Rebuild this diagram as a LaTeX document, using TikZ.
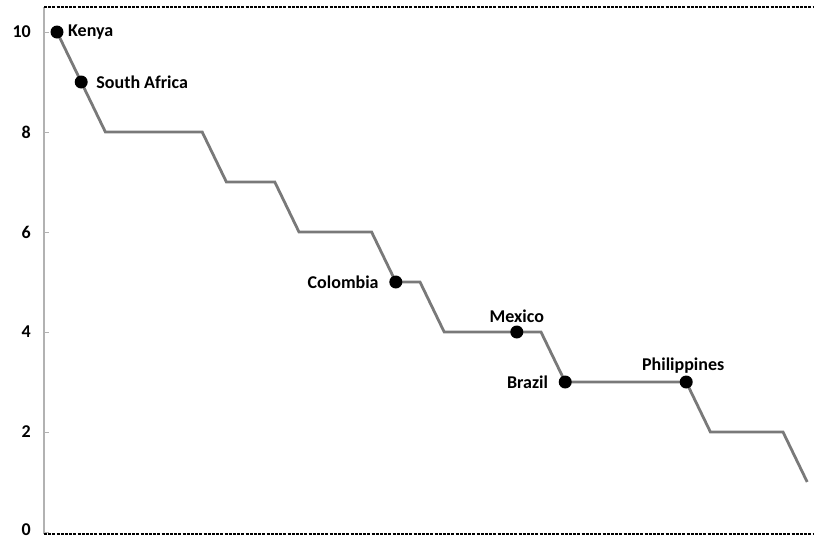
\documentclass[tikz,border=0pt]{standalone}
\usepackage{fontspec}
\setmainfont{Carlito}
\begin{document}
\begin{tikzpicture}[x=1pt,y=-1pt,
  lab/.style={font=\fontsize{18}{20}\selectfont\bfseries, inner sep=0pt},
  tick/.style={font=\fontsize{18}{20}\selectfont\bfseries, anchor=east, inner sep=0pt},
  dot/.style={circle, fill=black, inner sep=0pt, minimum size=13pt},
  series/.style={draw=gray!95!black, line width=2.8pt, line join=miter},
  border/.style={draw=black, line width=1.6pt, dash pattern=on 3pt off 1.2pt}]
\useasboundingbox (0,0) rectangle (814,539);
% axis
\draw[gray!60, line width=1.2pt] (44,7) -- (44,534);
\foreach \v in {0,2,...,10} {
  \draw[gray!60, line width=0.8pt] (44,{532-50*\v}) -- (49,{532-50*\v});
}
\foreach \v in {2,4,...,10} {
  \node[tick] (t\v) at (31,{532-50*\v}) {\v};
}
\node[tick, anchor=base east] (t0) at (31,535) {0};
\draw[border] (44,7) -- (814,7);
\draw[border] (44,534) -- (814,534);
% data
\def\dx{24.2}
\foreach \i/\v in {0/10,1/9,2/8,3/8,4/8,5/8,6/8,7/7,8/7,9/7,10/6,11/6,12/6,13/6,14/5,15/5,16/4,17/4,18/4,19/4,20/4,21/3,22/3,23/3,24/3,25/3,26/3,27/2,28/2,29/2,30/2,31/1}
  \coordinate (p\i) at ({57+\dx*\i},{532-50*\v});
\draw[series] (p0)
  \foreach \i in {1,...,31} { -- (p\i) };
\node[dot] (kenya) at (p0) {};
\node[dot] (safrica) at (p1) {};
\node[dot] (colombia) at (p14) {};
\node[dot] (mexico) at (p19) {};
\node[dot] (brazil) at (p21) {};
\node[dot] (phil) at (p26) {};
\node[lab, anchor=west] (lk) at ([xshift=11pt]kenya.center) {Kenya};
\node[lab, anchor=west] (ls) at ([xshift=15pt]safrica.center) {South Africa};
\node[lab, anchor=east] (lc) at ([xshift=-17pt]colombia.center) {Colombia};
\node[lab] (lm) at ([yshift=16pt]mexico.center) {Mexico};
\node[lab, anchor=east] (lb) at ([xshift=-17pt]brazil.center) {Brazil};
\node[lab] (lp) at ([xshift=-3pt,yshift=16pt]phil.center) {Philippines};
\end{tikzpicture}
\end{document}
